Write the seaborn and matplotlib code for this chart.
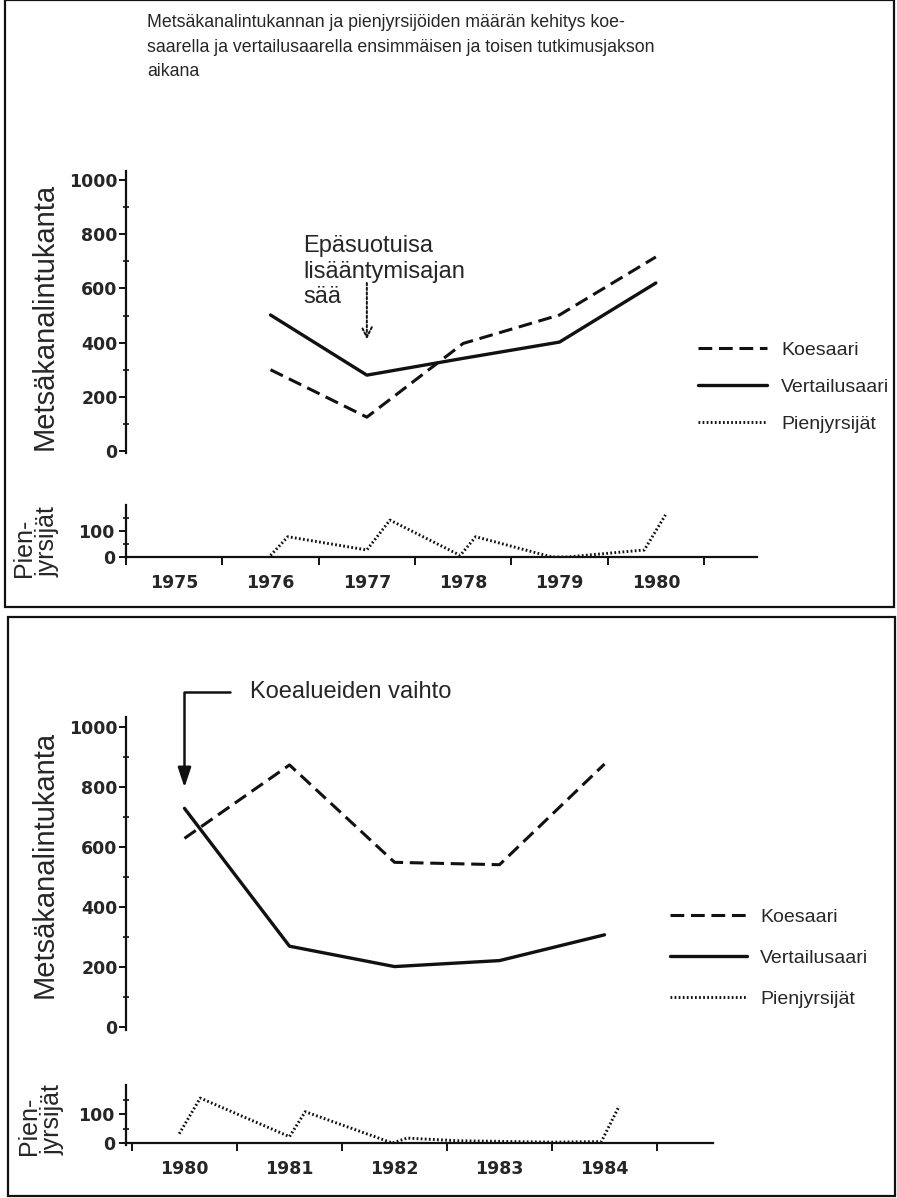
import numpy as np
import pandas as pd
import seaborn as sns
import matplotlib.pyplot as plt
from matplotlib.patches import Rectangle

W, H = 897, 1198
INK = '#111111'
TXT = '#262626'

# 1st period
years_1 = [1976, 1977, 1978, 1979, 1980]
koesaari_1 = [300, 125, 397, 502, 716]
vertailu_1 = [502, 280, 342, 402, 620]
rodent_x_1 = [1976.0, 1976.18, 1977.0, 1977.24, 1977.97, 1978.13, 1978.92, 1979.08, 1979.88, 1980.1]
rodent_y_1 = [6, 78, 27, 142, 6, 78, 0, 0, 27, 162]
xlabels_1 = [1975, 1976, 1977, 1978, 1979, 1980]

# 2nd period
years_2 = [1980, 1981, 1982, 1983, 1984]
koesaari_2 = [630, 875, 550, 542, 878]
vertailu_2 = [730, 270, 202, 222, 308]
rodent_x_2 = [1979.95, 1980.15, 1981.0, 1981.15, 1981.98, 1982.12, 1982.6, 1983.5, 1983.97, 1984.14]
rodent_y_2 = [32, 155, 22, 108, 0, 17, 8, 3, 5, 128]
xlabels_2 = [1980, 1981, 1982, 1983, 1984]

title = ("Metsäkanalintukannan ja pienjyrsijöiden määrän kehitys koe-\n"
         "saarella ja vertailusaarella ensimmäisen ja toisen tutkimusjakson\n"
         "aikana")

sns.set_theme(style='white')
plt.rcParams['font.family'] = ['Liberation Sans', 'DejaVu Sans']

fig = plt.figure(figsize=(W / 100, H / 100), dpi=100)


def px_rect(left, top, right, bottom):
    return [left / W, 1 - bottom / H, (right - left) / W, (bottom - top) / H]


def bold_ticks(labels):
    for lab in labels:
        lab.set_fontweight('bold')
        lab.set_family('DejaVu Sans')
        lab.set_fontsize(12.5)
        lab.set_color(TXT)


def style_main(ax, xlim):
    ax.set_xlim(*xlim)
    ax.set_ylim(-8, 1035)
    ax.spines[['top', 'right', 'bottom']].set_visible(False)
    ax.spines['left'].set_linewidth(1.6)
    ax.spines['left'].set_color(INK)
    ax.tick_params(axis='x', which='both', bottom=False, labelbottom=False)
    ax.set_yticks(range(0, 1001, 200))
    ax.set_yticks(range(100, 1000, 200), minor=True)
    ax.tick_params(axis='y', which='major', left=True, direction='out', length=5, width=1.4, pad=1, color=INK)
    ax.tick_params(axis='y', which='minor', left=True, direction='inout', length=4, width=1.2, color=INK)
    bold_ticks(ax.get_yticklabels())
    ax.set_xlabel('')
    ax.set_ylabel('')
    ax.patch.set_alpha(0)


def style_mini(ax, xlim, xlabels):
    ax.set_xlim(*xlim)
    ax.set_ylim(-5, 200)
    ax.spines[['top', 'right']].set_visible(False)
    ax.spines['bottom'].set_position(('data', 0))
    for s in ['left', 'bottom']:
        ax.spines[s].set_linewidth(1.6)
        ax.spines[s].set_color(INK)
    ax.set_yticks([0, 100])
    ax.set_yticks([50, 150], minor=True)
    ax.tick_params(axis='y', which='major', left=True, direction='out', length=5, width=1.4, pad=3, color=INK)
    ax.tick_params(axis='y', which='minor', left=True, direction='inout', length=4, width=1.2, color=INK)
    bounds = [y - 0.5 for y in xlabels] + [xlabels[-1] + 0.5]
    ax.set_xticks(bounds)
    ax.set_xticklabels([])
    ax.set_xticks(xlabels, minor=True)
    ax.set_xticklabels([str(y) for y in xlabels], minor=True)
    ax.tick_params(axis='x', which='major', bottom=True, direction='out', length=6, width=1.4, color=INK)
    ax.tick_params(axis='x', which='minor', bottom=True, length=0, pad=12)
    bold_ticks(ax.get_yticklabels())
    bold_ticks(ax.get_xticklabels(minor=True))
    ax.set_xlabel('')
    ax.set_ylabel('')
    ax.patch.set_alpha(0)


def draw_period(ax_main, ax_mini, years, koe, vert, rx, ry):
    sns.lineplot(x=years, y=koe, ax=ax_main, color=INK, lw=2.2,
                 linestyle=(0, (4.5, 2.2)), label='Koesaari', legend=False)
    sns.lineplot(x=years, y=vert, ax=ax_main, color=INK, lw=2.4,
                 label='Vertailusaari', legend=False)
    sns.lineplot(x=rx, y=ry, ax=ax_mini, color=INK, lw=2.1,
                 linestyle=(0, (0.6, 0.8)), label='Pienjyrsijät', legend=False)
    h1, _ = ax_main.get_legend_handles_labels()
    h2, _ = ax_mini.get_legend_handles_labels()
    return h1 + h2


def add_legend(handles, left, mid, length, gap, step, size):
    em = size * 100 / 72
    fig.legend(handles=handles, labels=[h.get_label() for h in handles],
               loc='center left', bbox_to_anchor=(left / W, 1 - mid / H),
               frameon=False, fontsize=size, labelcolor=TXT,
               handlelength=length / em, handletextpad=gap / em,
               labelspacing=(step - 1.05 * em) / em, borderpad=0, borderaxespad=0)


# ---- top panel (1975-1980)
xlim_1 = (1974.5, 1981.05)
ax1 = fig.add_axes(px_rect(126, 170.5, 757, 453.2))
ax1m = fig.add_axes(px_rect(126, 505, 757, 558.3))
hs = draw_period(ax1, ax1m, years_1, koesaari_1, vertailu_1, rodent_x_1, rodent_y_1)
style_main(ax1, xlim_1)
style_mini(ax1m, xlim_1, xlabels_1)
add_legend(hs, 698, 387, 69, 14, 40, 14)

ax1.annotate('', xy=(1977, 412), xytext=(1977, 620),
             arrowprops=dict(arrowstyle='->,head_width=0.3,head_length=0.6', lw=1.4,
                             ls=(0, (1.2, 1.2)), color=INK, shrinkA=0, shrinkB=0))
fig.text(303 / W, 1 - 235 / H, 'Epäsuotuisa\nlisääntymisajan\nsää', ha='left', va='top',
         fontsize=17, linespacing=1.22, color=TXT)

fig.text(147 / W, 1 - 14 / H, title, ha='left', va='top', fontsize=12.8,
         linespacing=1.58, color=TXT)
fig.text(45 / W, 1 - 316 / H, 'Metsäkanalintukanta', rotation=90, ha='center', va='center',
         fontsize=21, color=TXT)
fig.text(36 / W, 1 - 577 / H, 'Pien-\njyrsijät', rotation=90, ha='center', va='bottom',
         multialignment='left', fontsize=18, linespacing=0.95, color=TXT)

# ---- bottom panel (1980-1984)
xlim_2 = (1979.443, 1985.033)
ax2 = fig.add_axes(px_rect(126, 717, 713, 1029.5))
ax2m = fig.add_axes(px_rect(126, 1085, 713, 1144.5))
hs = draw_period(ax2, ax2m, years_2, koesaari_2, vertailu_2, rodent_x_2, rodent_y_2)
style_main(ax2, xlim_2)
style_mini(ax2m, xlim_2, xlabels_2)
add_legend(hs, 670, 958, 77, 13, 44, 14)

ax2.annotate('Koealueiden vaihto', xy=(1980, 800), xycoords='data',
             xytext=(250, H - 692), textcoords='figure pixels',
             ha='left', va='center', fontsize=17, color=TXT, annotation_clip=False,
             arrowprops=dict(arrowstyle='-|>,head_width=0.4,head_length=1.2', mutation_scale=10,
                             connectionstyle='angle,angleA=0,angleB=90,rad=0',
                             lw=1.8, color=INK, shrinkA=12, shrinkB=0))

fig.text(45 / W, 1 - 864 / H, 'Metsäkanalintukanta', rotation=90, ha='center', va='center',
         fontsize=21, color=TXT)
fig.text(41 / W, 1 - 1155 / H, 'Pien-\njyrsijät', rotation=90, ha='center', va='bottom',
         multialignment='left', fontsize=18, linespacing=0.95, color=TXT)

# panel frames
fig.add_artist(Rectangle((5 / W, 1 - 607 / H), 889 / W, 607 / H, transform=fig.transFigure,
                         fill=False, lw=1.6, ec=INK))
fig.add_artist(Rectangle((8 / W, 1 - 1196 / H), 887 / W, 579 / H, transform=fig.transFigure,
                         fill=False, lw=1.6, ec=INK))

fig.savefig('out.png', dpi=100)
